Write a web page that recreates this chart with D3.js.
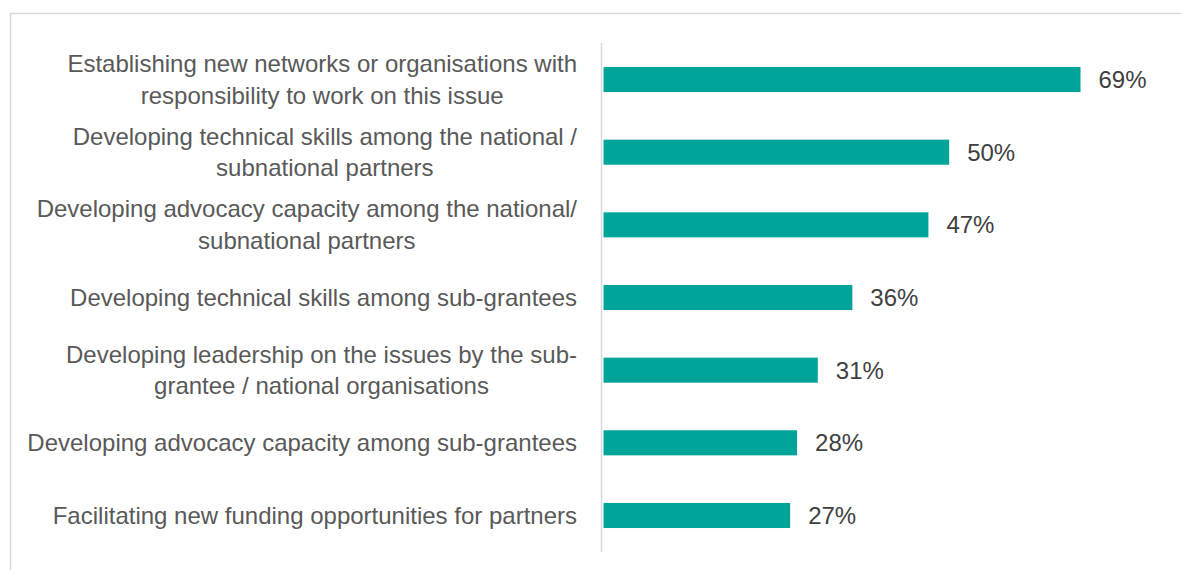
<!DOCTYPE html>
<html>
<head>
<meta charset="utf-8">
<script src="https://cdn.jsdelivr.net/npm/d3@7"></script>
<style>
  html, body { margin: 0; padding: 0; background: #fff; }
  svg { display: block; font-family: "Liberation Sans", Arial, sans-serif; }
</style>
</head>
<body>
<svg id="chart" width="1181" height="570"></svg>
<script>
// Capacity-building outcomes, share of respondents (%)
const categories = [
  "Establishing new networks or organisations with\nresponsibility to work on this issue",
  "Developing technical skills among the national /\nsubnational partners",
  "Developing advocacy capacity among the national/\nsubnational partners",
  "Developing technical skills among sub-grantees",
  "Developing leadership on the issues by the sub-\ngrantee / national organisations",
  "Developing advocacy capacity among sub-grantees",
  "Facilitating new funding opportunities for partners"
];
const values = [69, 50, 47, 36, 31, 28, 27];
const valueLabels = values.map(v => v + "%");

const svg = d3.select("#chart");
const W = 1181, H = 570;

// outer frame (top and left edges visible)
svg.append("path")
  .attr("d", `M10.5,${H} V13.5 H${W}`)
  .attr("fill", "none")
  .attr("stroke", "#d9d9d9")
  .attr("stroke-width", 1.5);

const x = d3.scaleLinear().domain([0, 69]).range([603.5, 1080.5]);
const y = d3.scaleBand().domain(categories).range([43, 552]).paddingInner(0.655).paddingOuter(0.33);

const fontSize = 24;
const labelRight = 577;

// bars
svg.append("g").selectAll("rect")
  .data(categories)
  .join("rect")
  .attr("x", x(0))
  .attr("y", d => y(d))
  .attr("width", (d, i) => x(values[i]) - x(0))
  .attr("height", y.bandwidth())
  .attr("fill", "#00a499");

// category axis line
svg.append("line")
  .attr("x1", 601.5).attr("x2", 601.5)
  .attr("y1", 43).attr("y2", 552)
  .attr("stroke", "#d9d9d9")
  .attr("stroke-width", 1.5);

// category labels: each block sits flush against the axis, lines centred within it
const lineH = 31.6;
svg.append("g").selectAll("text")
  .data(categories)
  .join("text")
  .attr("text-anchor", "middle")
  .attr("font-size", fontSize)
  .attr("fill", "#595959")
  .each(function(d) {
    const lines = d.split("\n");
    const cy = y(d) + y.bandwidth() / 2;
    const t = d3.select(this);
    const spans = lines.map((ln, k) =>
      t.append("tspan")
        .attr("y", cy + (k - (lines.length - 1) / 2) * lineH)
        .attr("dy", "0.35em")
        .text(ln));
    const maxW = d3.max(spans, s => s.node().getComputedTextLength());
    spans.forEach(s => s.attr("x", labelRight - maxW / 2));
  });

// value labels
svg.append("g").selectAll("text")
  .data(categories)
  .join("text")
  .attr("x", (d, i) => x(values[i]) + 18)
  .attr("y", d => y(d) + y.bandwidth() / 2)
  .attr("dy", "0.35em")
  .attr("font-size", fontSize)
  .attr("fill", "#404040")
  .text((d, i) => valueLabels[i]);
</script>
</body>
</html>
